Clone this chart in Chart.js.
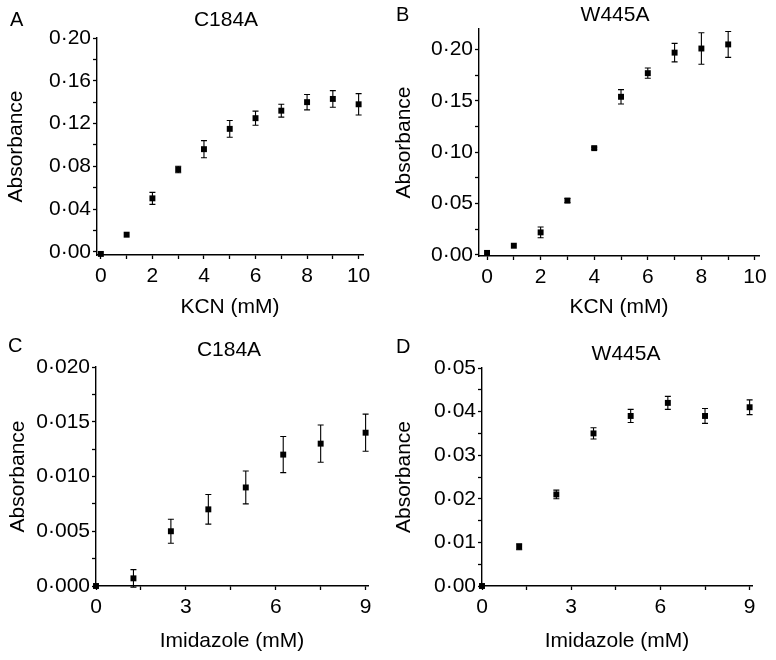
<!DOCTYPE html>
<html>
<head>
<meta charset="utf-8">
<script src="https://cdn.jsdelivr.net/npm/chart.js@4.4.1/dist/chart.umd.min.js"></script>
<style>
  html, body { margin: 0; padding: 0; background: #fff; }
  #wrap { position: relative; width: 776px; height: 660px; }
  .panel { position: absolute; width: 388px; height: 330px; }
</style>
</head>
<body>
<div id="wrap">
  <div class="panel" style="left:0;top:0"><canvas id="panelA" width="388" height="330"></canvas></div>
  <div class="panel" style="left:388px;top:0"><canvas id="panelB" width="388" height="330"></canvas></div>
  <div class="panel" style="left:0;top:330px"><canvas id="panelC" width="388" height="330"></canvas></div>
  <div class="panel" style="left:388px;top:330px"><canvas id="panelD" width="388" height="330"></canvas></div>
</div>
<script>
// =========================
// Data
// =========================

// A: C184A + KCN
const kcnConcA = [0, 1, 2, 3, 4, 5, 6, 7, 8, 9, 10];
const c184aKcn = [-0.002, 0.016, 0.050, 0.077, 0.096, 0.115, 0.125, 0.132, 0.140, 0.143, 0.138];
const c184aKcnErr = [0, 0, 0.0056, 0.003, 0.008, 0.0078, 0.0066, 0.006, 0.0072, 0.0078, 0.010];

// B: W445A + KCN
const kcnConcB = [0, 1, 2, 3, 4, 5, 6, 7, 8, 9];
const w445aKcn = [0.002, 0.009, 0.022, 0.053, 0.104, 0.154, 0.177, 0.197, 0.201, 0.205];
const w445aKcnErr = [0, 0, 0.0053, 0.002, 0.001, 0.007, 0.005, 0.009, 0.0153, 0.0126];

// C: C184A + imidazole
const imidConc = [0, 1.25, 2.5, 3.75, 5, 6.25, 7.5, 9];
const c184aImid = [0, 0.0007, 0.005, 0.007, 0.009, 0.012, 0.013, 0.014];
const c184aImidErr = [0, 0.0008, 0.0011, 0.00135, 0.0015, 0.00165, 0.0017, 0.0017];

// D: W445A + imidazole
const w445aImid = [0, 0.009, 0.021, 0.035, 0.039, 0.042, 0.039, 0.041];
const w445aImidErr = [0, 0.0007, 0.001, 0.0013, 0.0015, 0.0015, 0.0017, 0.0017];

// tick labels
const kcnTicks = [0, 2, 4, 6, 8, 10];
const imidTicks = [0, 3, 6, 9];
const absTicksA = [0, 0.04, 0.08, 0.12, 0.16, 0.20];
const absTicksB = [0, 0.05, 0.10, 0.15, 0.20];
const absTicksC = [0, 0.005, 0.010, 0.015, 0.020];
const absTicksD = [0, 0.01, 0.02, 0.03, 0.04, 0.05];

const FONT = '"Liberation Sans", Arial, Helvetica, sans-serif';

// =========================
// Helpers
// =========================

function withMinor(majors) {
    const out = [];
    majors.forEach((m, i) => {
        out.push(m);
        if (i < majors.length - 1) out.push((m + majors[i + 1]) / 2);
    });
    return out;
}

function isMajor(v, majors) {
    return majors.some(m => Math.abs(m - v) < 1e-9);
}

function dotted(v, digits) {
    return v.toFixed(digits).replace('.', '\u00b7');
}

// =========================
// Plugins
// =========================

const errorBars = {
    id: 'errorBars',
    beforeDatasetsDraw(chart) {
        const ctx = chart.ctx;
        const yScale = chart.scales.y;
        chart.data.datasets.forEach((ds, i) => {
            const meta = chart.getDatasetMeta(i);
            const errs = ds.errors || [];
            ctx.save();
            ctx.strokeStyle = '#000';
            ctx.lineWidth = 1.1;
            meta.data.forEach((pt, j) => {
                const e = errs[j];
                if (!e) return;
                const v = ds.data[j].y;
                const top = yScale.getPixelForValue(v + e);
                const bot = yScale.getPixelForValue(v - e);
                ctx.beginPath();
                ctx.moveTo(pt.x, top); ctx.lineTo(pt.x, bot);
                ctx.moveTo(pt.x - 3, top); ctx.lineTo(pt.x + 3, top);
                ctx.moveTo(pt.x - 3, bot); ctx.lineTo(pt.x + 3, bot);
                ctx.stroke();
            });
            ctx.restore();
        });
    }
};

const panelText = {
    id: 'panelText',
    afterDraw(chart, args, opts) {
        const ctx = chart.ctx;
        ctx.save();
        ctx.fillStyle = '#000';
        ctx.textBaseline = 'alphabetic';
        ctx.textAlign = 'left';
        ctx.font = '20px ' + FONT;
        ctx.fillText(opts.letter, opts.letterX, opts.letterY);
        ctx.textAlign = 'center';
        ctx.font = '21px ' + FONT;
        ctx.fillText(opts.title, opts.titleX, opts.titleY);
        ctx.restore();
    }
};

// =========================
// Charts
// =========================

function makePanel(id, p) {
    const points = p.x.map((x, i) => ({ x: x, y: p.y[i] }));
    const xAll = withMinor(p.xTicks);
    const yAll = withMinor(p.yTicks);

    return new Chart(document.getElementById(id), {
        type: 'scatter',
        data: {
            datasets: [{
                data: points,
                errors: p.err,
                pointStyle: 'rect',
                pointRadius: 4.2,
                pointHoverRadius: 4.2,
                backgroundColor: '#000',
                borderColor: '#000',
                borderWidth: 0,
                clip: false
            }]
        },
        options: {
            responsive: false,
            animation: false,
            layout: { padding: { left: 0, top: p.area.top, right: 388 - p.area.right, bottom: 0 } },
            plugins: {
                legend: { display: false },
                tooltip: { enabled: false },
                panelText: p.text
            },
            scales: {
                x: {
                    type: 'linear',
                    min: p.xMin, max: p.xMax,
                    afterBuildTicks: s => { s.ticks = xAll.map(v => ({ value: v })); },
                    afterFit: s => { s.height = 330 - p.area.bottom; },
                    grid: { drawOnChartArea: false, tickLength: 4, tickColor: '#000', tickWidth: 1.3 },
                    border: { color: '#000', width: 1.4 },
                    ticks: {
                        color: '#000', font: { size: 21 }, padding: 5,
                        autoSkip: false, maxRotation: 0,
                        callback: v => isMajor(v, p.xTicks) ? String(Math.round(v)) : ''
                    },
                    title: {
                        display: true, text: p.xTitle, color: '#000',
                        font: { size: 21 }, padding: { top: 0, bottom: p.xTitlePad }
                    }
                },
                y: {
                    type: 'linear',
                    min: p.yMin, max: p.yMax,
                    afterBuildTicks: s => { s.ticks = yAll.map(v => ({ value: v })); },
                    afterFit: s => { s.width = p.area.left; },
                    grid: { drawOnChartArea: false, tickLength: 4, tickColor: '#000', tickWidth: 1.3 },
                    border: { color: '#000', width: 1.4 },
                    ticks: {
                        color: '#000', font: { size: 21 }, padding: 2,
                        autoSkip: false,
                        callback: v => isMajor(v, p.yTicks) ? dotted(v, p.yDigits) : ''
                    },
                    title: {
                        display: true, text: 'Absorbance', color: '#000',
                        font: { size: 21 }, padding: { top: p.yTitlePad, bottom: 0 }
                    }
                }
            }
        },
        plugins: [errorBars, panelText]
    });
}

Chart.defaults.font.family = FONT;
Chart.defaults.color = '#000';

makePanel('panelA', {
    x: kcnConcA, y: c184aKcn, err: c184aKcnErr,
    xTicks: kcnTicks, yTicks: absTicksA, yDigits: 2,
    xMin: -0.15, xMax: 10.17, yMin: -0.003, yMax: 0.2,
    area: { left: 97, top: 38, right: 363, bottom: 255 },
    xTitle: 'KCN (mM)', xTitlePad: 10, yTitlePad: 4,
    text: { letter: 'A', letterX: 10, letterY: 26, title: 'C184A', titleX: 226, titleY: 26 }
});

makePanel('panelB', {
    x: kcnConcB, y: w445aKcn, err: w445aKcnErr,
    xTicks: kcnTicks, yTicks: absTicksB, yDigits: 2,
    xMin: -0.3, xMax: 10.15, yMin: -0.001, yMax: 0.22,
    area: { left: 91, top: 29, right: 371, bottom: 256 },
    xTitle: 'KCN (mM)', xTitlePad: 10, yTitlePad: 4,
    text: { letter: 'B', letterX: 8, letterY: 21, title: 'W445A', titleX: 227, titleY: 21 }
});

makePanel('panelC', {
    x: imidConc, y: c184aImid, err: c184aImidErr,
    xTicks: imidTicks, yTicks: absTicksC, yDigits: 3,
    xMin: 0, xMax: 9.08, yMin: 0, yMax: 0.02,
    area: { left: 96, top: 37, right: 368, bottom: 256 },
    xTitle: 'Imidazole (mM)', xTitlePad: 6, yTitlePad: 6,
    text: { letter: 'C', letterX: 8, letterY: 22, title: 'C184A', titleX: 229, titleY: 26 }
});

makePanel('panelD', {
    x: imidConc, y: w445aImid, err: w445aImidErr,
    xTicks: imidTicks, yTicks: absTicksD, yDigits: 2,
    xMin: 0, xMax: 9.08, yMin: 0, yMax: 0.05,
    area: { left: 94, top: 38, right: 364, bottom: 256 },
    xTitle: 'Imidazole (mM)', xTitlePad: 6, yTitlePad: 4,
    text: { letter: 'D', letterX: 8, letterY: 23, title: 'W445A', titleX: 238, titleY: 30 }
});
</script>
</body>
</html>
